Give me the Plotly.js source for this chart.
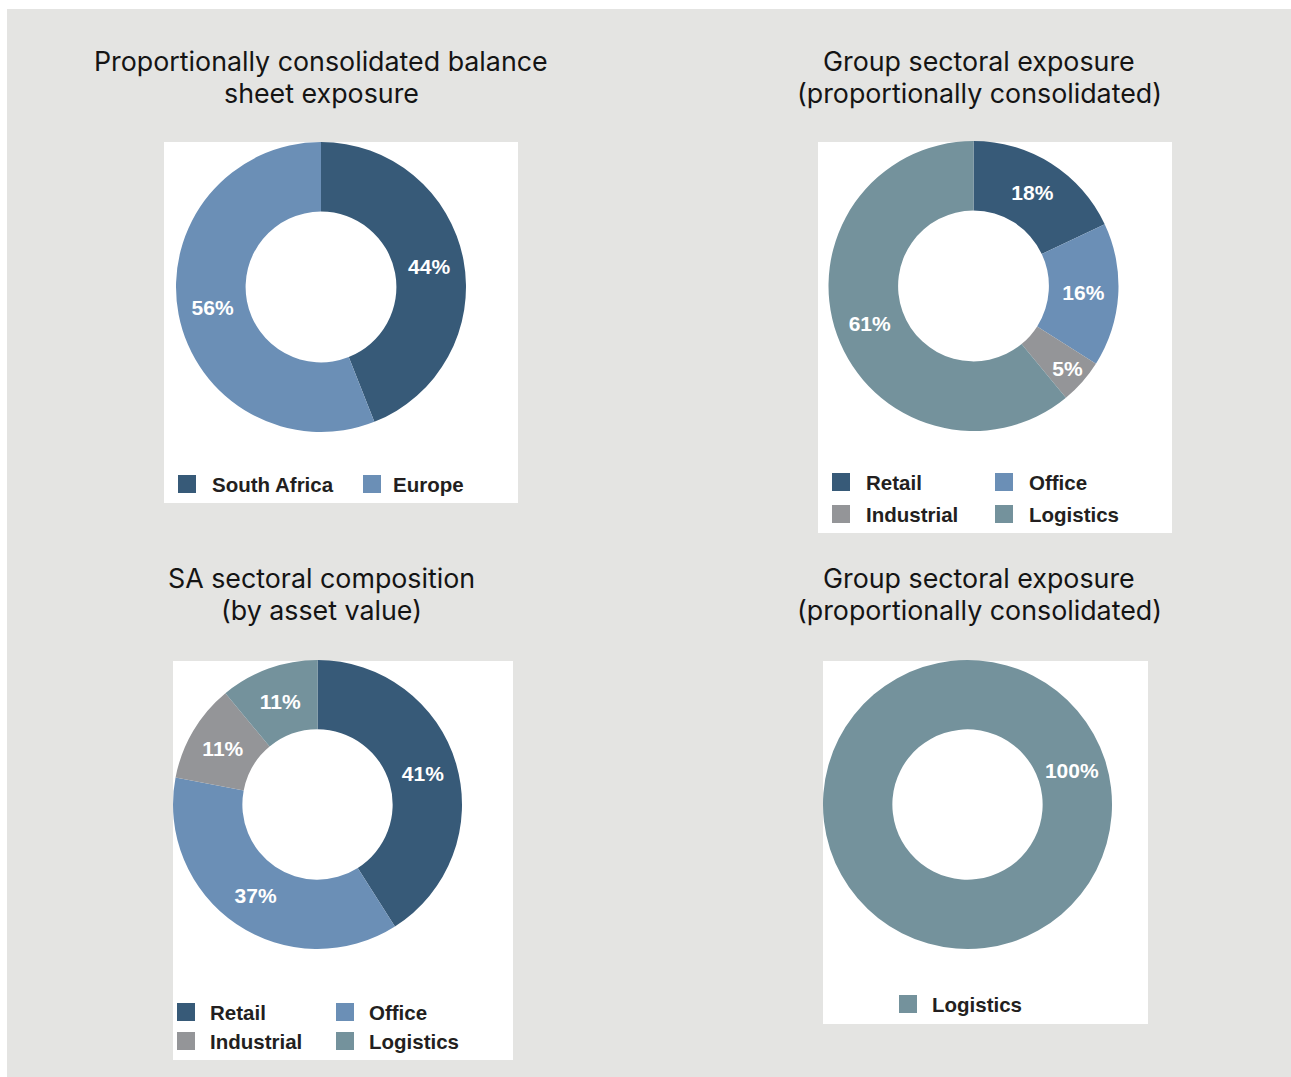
<!DOCTYPE html>
<html>
<head>
<meta charset="utf-8">
<script src="https://cdn.plot.ly/plotly-3.0.1.min.js"></script>
<style>html,body{margin:0;padding:0;background:#fff;}#chart{width:1291px;height:1077px;}</style>
</head>
<body>
<div id="chart"></div>
<script>
// ---- data ----
const titles = [
  'Proportionally consolidated balance<br>sheet exposure',
  'Group sectoral exposure<br>(proportionally consolidated)',
  'SA sectoral composition<br>(by asset value)',
  'Group sectoral exposure<br>(proportionally consolidated)'
];
const regionLabels = ['South Africa', 'Europe'];
const regionValues = [44, 56];
const sectorLabels = ['Retail', 'Office', 'Industrial', 'Logistics'];
const groupSectorValues = [18, 16, 5, 61];
const saSectorValues = [41, 37, 11, 11];
const logisticsLabels = ['Logistics'];
const logisticsValues = [100];

// ---- styling ----
const COLORS = {
  'South Africa': '#375a78', 'Europe': '#6b8fb6',
  'Retail': '#375a78', 'Office': '#6b8fb6', 'Industrial': '#949598', 'Logistics': '#74929c'
};
const W = 1291, H = 1077;
const px = x => x / W;
const py = y => 1 - y / H;

const charts = [
  { labels: regionLabels, values: regionValues, cx: 321, cy: 287, r: 145, rotation: 0,
    panel: [164, 142, 518, 503], titleX: 321, titleY: [61, 93],
    legend: [ { x: 178, y: 484, tx: 211 }, { x: 363, y: 484, tx: 392 } ] },
  { labels: sectorLabels, values: groupSectorValues, cx: 973.5, cy: 286, r: 145, rotation: 0,
    panel: [818, 142, 1172, 533], titleX: 979, titleY: [61, 93],
    legend: [ { x: 832, y: 482, tx: 865 }, { x: 995, y: 482, tx: 1028 },
              { x: 832, y: 514, tx: 865 }, { x: 995, y: 514, tx: 1028 } ] },
  { labels: sectorLabels, values: saSectorValues, cx: 317.5, cy: 804.5, r: 144.5, rotation: 0,
    panel: [173, 661, 513, 1060], titleX: 321, titleY: [578, 610],
    legend: [ { x: 177, y: 1012, tx: 209 }, { x: 336, y: 1012, tx: 368 },
              { x: 177, y: 1041, tx: 209 }, { x: 336, y: 1041, tx: 368 } ] },
  { labels: logisticsLabels, values: logisticsValues, cx: 967.5, cy: 804.5, r: 144.5, rotation: -108,
    panel: [823, 661, 1148, 1024], titleX: 979, titleY: [578, 610],
    legend: [ { x: 899, y: 1004, tx: 931 } ] }
];

const traces = [];
const shapes = [{
  type: 'rect', xref: 'paper', yref: 'paper', layer: 'below',
  x0: px(7), x1: px(W), y0: py(9), y1: py(H),
  fillcolor: '#e4e4e2', line: { width: 0 }
}];
const annotations = [];

charts.forEach((c, i) => {
  traces.push({
    type: 'pie', labels: c.labels, values: c.values,
    hole: 0.52, sort: false, direction: 'clockwise', rotation: c.rotation,
    marker: { colors: c.labels.map(l => COLORS[l]), line: { width: 0 } },
    textinfo: 'percent', textposition: 'inside', insidetextorientation: 'horizontal',
    textfont: { family: 'Liberation Sans, Arial, sans-serif', size: 21, color: '#ffffff', weight: 'bold' },
    domain: { x: [px(c.cx - c.r), px(c.cx + c.r)], y: [py(c.cy + c.r), py(c.cy - c.r)] },
    showlegend: false, hoverinfo: 'label+percent'
  });
  shapes.push({
    type: 'rect', xref: 'paper', yref: 'paper', layer: 'below',
    x0: px(c.panel[0]), x1: px(c.panel[2]), y0: py(c.panel[3]), y1: py(c.panel[1]),
    fillcolor: '#ffffff', line: { width: 0 }
  });
  titles[i].split('<br>').forEach((line, k) => {
    annotations.push({
      xref: 'paper', yref: 'paper', x: px(c.titleX), y: py(c.titleY[k]),
      xanchor: 'center', yanchor: 'middle', showarrow: false, align: 'center',
      text: line,
      font: { family: 'Inter, Roboto, sans-serif', size: 26.8, weight: 400, color: '#141414' }
    });
  });
  c.labels.forEach((lab, j) => {
    const L = c.legend[j];
    shapes.push({
      type: 'rect', xref: 'paper', yref: 'paper',
      x0: px(L.x), x1: px(L.x + 18), y0: py(L.y + 9), y1: py(L.y - 9),
      fillcolor: COLORS[lab], line: { width: 0 }
    });
    annotations.push({
      xref: 'paper', yref: 'paper', x: px(L.tx - 1), y: py(L.y),
      xanchor: 'left', yanchor: 'middle', showarrow: false,
      text: '<b>' + lab + '</b>',
      font: { family: 'Liberation Sans, Arial, sans-serif', size: 20.5, color: '#231f20' }
    });
  });
});

const layout = {
  width: W, height: H,
  margin: { l: 0, r: 0, t: 0, b: 0 },
  paper_bgcolor: '#ffffff',
  showlegend: false,
  shapes: shapes,
  annotations: annotations
};

Plotly.newPlot('chart', traces, layout, { displayModeBar: false, staticPlot: true });
</script>
</body>
</html>
